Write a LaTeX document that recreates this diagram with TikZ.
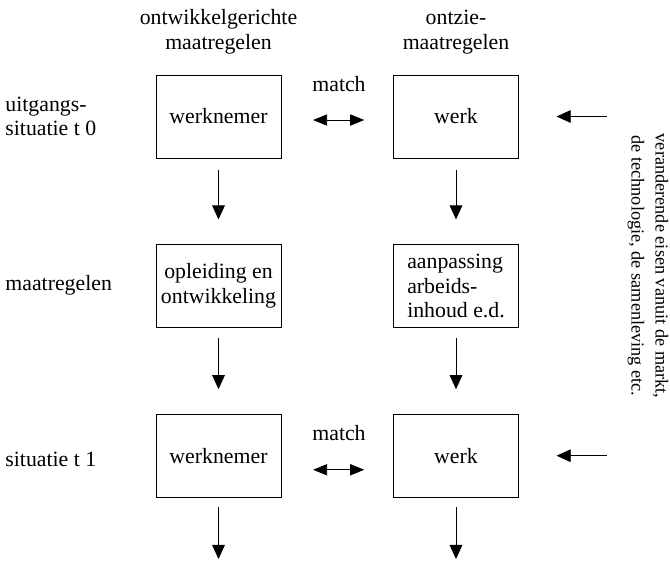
\documentclass[tikz,border=0pt]{standalone}
\usepackage{fontspec}
\setmainfont{Liberation Serif}
\usetikzlibrary{arrows.meta}

\begin{document}
\begin{tikzpicture}[x=0.025cm,y=-0.025cm,semithick,
  font=\fontsize{15.5}{17.5}\selectfont,
  box/.style={draw,minimum width=3.125cm,minimum height=2.075cm,inner sep=2pt},
  rij/.style={anchor=west,align=left,inner sep=0pt},
  kop/.style={align=center,inner sep=0pt},
  pijl/.style={-{Triangle[length=10pt,width=9pt]}},
  dubbel/.style={{Triangle[length=10pt,width=8pt]}-{Triangle[length=10pt,width=8pt]}}]
\useasboundingbox(0,0)rectangle(670,561);
\node[kop](k1)at(218.5,32){ontwikkelgerichte\\maatregelen};
\node[kop](k2)at(456,32){ontzie-\\maatregelen};
\node[rij](r0)at(5,116.5){uitgangs-\\situatie t 0};
\node[rij](r1)at(5,285){maatregelen};
\node[rij](r2)at(5,459){situatie t 1};
\node[box](wn0)at(218.5,116.5){werknemer};
\node[box](wk0)at(456,116.5){werk};
\node[box,align=center](od)at(218.5,286){opleiding en\\ontwikkeling};
\node[box,align=left](aa)at(456,286){aanpassing\\arbeids-\\inhoud e.d.};
\node[box](wn1)at(218.5,455.7){werknemer};
\node[box](wk1)at(456,455.7){werk};
\node(m0)at(339,84){match};
\node(m1)at(339,433){match};
\node[rotate=-90,align=center,inner sep=0pt,font=\fontsize{13}{17}\selectfont](eisen)at(648,266){veranderende eisen vanuit de markt,\\de technologie, de samenleving etc.};
\coordinate(e0)at(607,116.5);\coordinate(e1)at(607,455.7);
\coordinate(u1)at(218.5,559);\coordinate(u2)at(456,559);
% pijlen omlaag
\draw[pijl,shorten <=8pt,shorten >=17.5pt](wn0)--(od);
\draw[pijl,shorten <=8pt,shorten >=17.5pt](wk0)--(aa);
\draw[pijl,shorten <=7pt,shorten >=17.5pt](od)--(wn1);
\draw[pijl,shorten <=7pt,shorten >=17.5pt](aa)--(wk1);
\draw[pijl,shorten <=7pt](wn1)--(u1);
\draw[pijl,shorten <=7pt](wk1)--(u2);
% match
\draw[dubbel,shorten <=22.5pt,shorten >=20.5pt]([yshift=-2.5pt]wn0.east)--([yshift=-2.5pt]wk0.west);
\draw[dubbel,shorten <=22.5pt,shorten >=20.5pt]([yshift=-10pt]wn1.east)--([yshift=-10pt]wk1.west);
% eisen van buiten
\draw[pijl,shorten >=26.8pt](e0)--(wk0);
\draw[pijl,shorten >=26.8pt](e1)--(wk1);
\end{tikzpicture}
\end{document}
